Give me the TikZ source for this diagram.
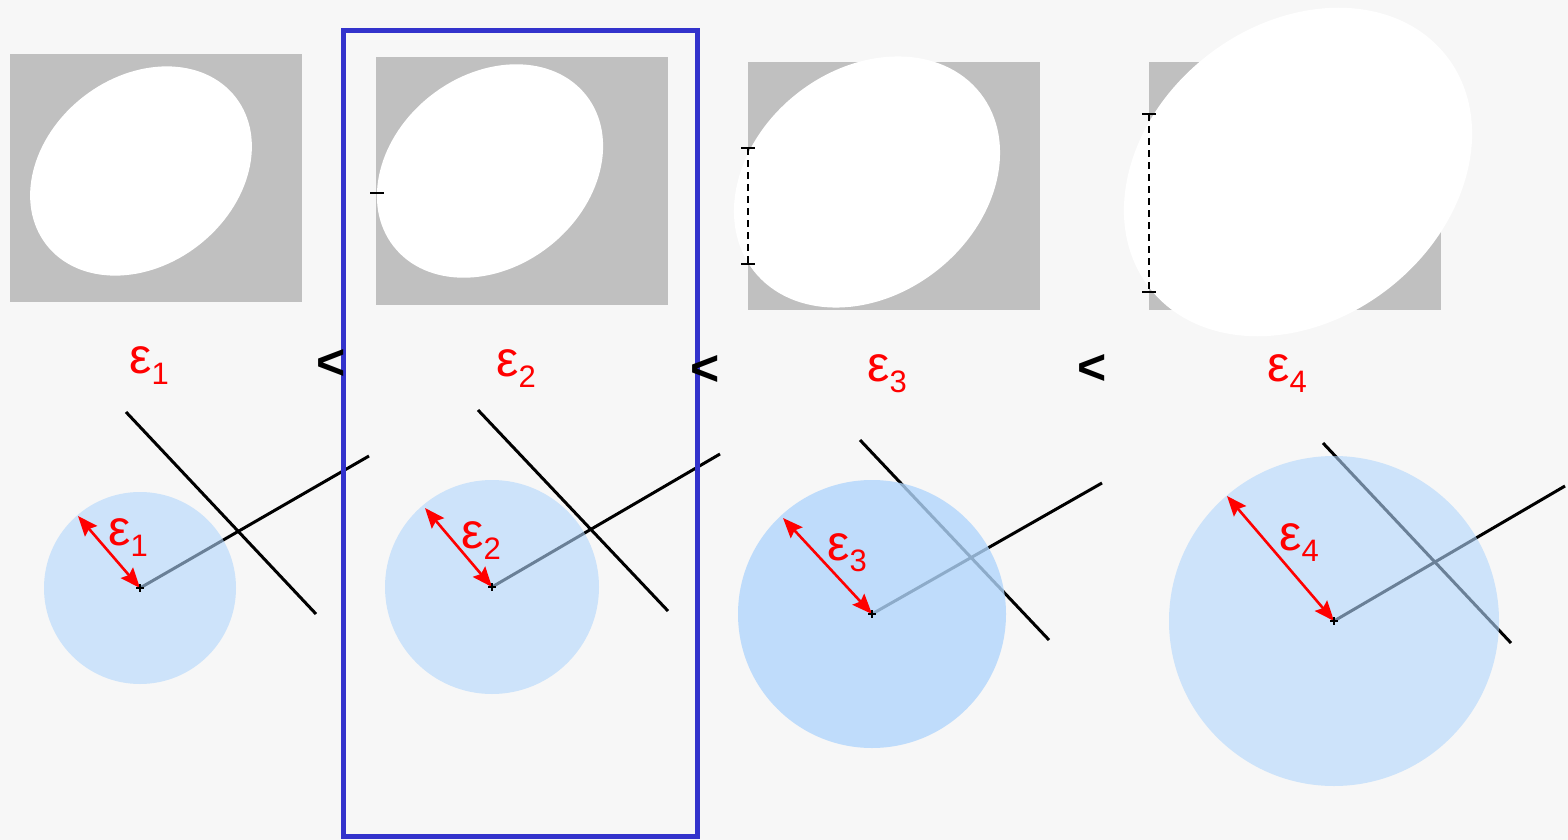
\documentclass[tikz,border=0pt]{standalone}
\usepackage{fontspec}
\setmainfont{Liberation Sans}
\usetikzlibrary{arrows.meta}
\definecolor{epsBg}{HTML}{F7F7F7}
\definecolor{epsGray}{HTML}{C0C0C0}
\definecolor{epsRed}{HTML}{FF0000}
\definecolor{epsFrame}{HTML}{3333CC}
\definecolor{epsBall}{RGB}{177,214,252}
\newcommand{\epsl}[1]{ε\raisebox{-5.5pt}{\fontsize{15.5}{15.5}\selectfont #1}}
\tikzset{
  eps card/.style={fill=epsGray},
  eps blob/.style={fill=white},
  eps line/.style={draw=black, line width=1.5pt},
  eps ball/.style={fill=epsBall, fill opacity=0.6},
  eps radius/.style={draw=epsRed, line width=1.3pt, {Stealth[length=10pt,width=8pt,inset=1.5pt]}-{Stealth[length=10pt,width=8pt,inset=1.5pt]}},
  eps cross/.style={draw=black, line width=1pt},
  eps label/.style={font=\fontsize{25}{25}\selectfont, text=epsRed, inner sep=0pt},
  eps less/.style={font=\bfseries\fontsize{25}{25}\selectfont, text=black, inner sep=0pt},
  eps gap/.style={draw=black, dash pattern=on 3.5pt off 2.5pt, line width=1pt},
  eps tick/.style={draw=black, line width=1.3pt},
  eps frame/.style={draw=epsFrame, line width=2.5pt},
}
\begin{document}
\begin{tikzpicture}[x=0.5pt, y=-0.5pt]
  \fill[epsBg] (0,0) rectangle (1568,840);
  \useasboundingbox (0,0) rectangle (1568,840);
  % upper row: gray cards with growing white blobs
  \foreach \rx/\ry/\cx/\cy/\s in {10/54/141/171/1, 376/57/490/171/1.02, 748/62/867/182/1.2, 1149/62/1298/172/1.57} {
    \fill[eps card] (\rx,\ry) rectangle +(292,248);
    \fill[eps blob, rotate around={38:(\cx,\cy)}] (\cx,\cy) ellipse[x radius=120*\s, y radius=94*\s];
  }
  % gap markers at the card edge
  \draw[eps tick] (370,193) -- (384,193);
  \coordinate (g3a) at (748,148); \coordinate (g3b) at (748,264);
  \coordinate (g4a) at (1149,114); \coordinate (g4b) at (1149,292);
  \foreach \i in {3,4} {
    \draw[eps gap] (g\i a) -- (g\i b);
    \draw[eps tick] (g\i a) +(-7,0) -- +(7,0);
    \draw[eps tick] (g\i b) +(-7,0) -- +(7,0);
  }
  % epsilon labels and ordering
  \node[eps label, anchor=base west] (e1) at (129,373) {\epsl{1}};
  \node[eps label, anchor=base west] (e2) at (496,376) {\epsl{2}};
  \node[eps label, anchor=base west] (e3) at (867,381) {\epsl{3}};
  \node[eps label, anchor=base west] (e4) at (1267,381) {\epsl{4}};
  % lower row: two lines, a ball round the end point and its radius
  \coordinate (c1) at (140,588); \coordinate (a1) at (126,412); \coordinate (z1) at (316,614);
  \coordinate (b1) at (369,456); \coordinate (t1) at (78,516);
  \coordinate (c2) at (492,587); \coordinate (a2) at (478,410); \coordinate (z2) at (668,611);
  \coordinate (b2) at (720,454); \coordinate (t2) at (425,508);
  \coordinate (c3) at (872,614); \coordinate (a3) at (860,440); \coordinate (z3) at (1049,640);
  \coordinate (b3) at (1102,483); \coordinate (t3) at (783,518);
  \coordinate (c4) at (1334,621); \coordinate (a4) at (1323,443); \coordinate (z4) at (1511,643);
  \coordinate (b4) at (1565,486); \coordinate (t4) at (1227,496);
  \foreach \i/\r/\op in {1/96/0.6, 2/107/0.6, 3/134/0.8, 4/165/0.6} {
    \draw[eps line] (a\i) -- (z\i);
    \draw[eps line] (c\i) -- (b\i);
    \fill[eps ball, fill opacity=\op] (c\i) circle[radius=\r];
    \draw[eps radius] (c\i) -- (t\i);
    \draw[eps cross] (c\i) +(-4,0) -- +(4,0) (c\i) +(0,-4) -- +(0,4);
  }
  \node[eps label, anchor=base west] (r1) at (108,545) {\epsl{1}};
  \node[eps label, anchor=base west] (r2) at (461,548) {\epsl{2}};
  \node[eps label, anchor=base west] (r3) at (827,560) {\epsl{3}};
  \node[eps label, anchor=base west] (r4) at (1279,550) {\epsl{4}};
  % chosen panel
  \draw[eps frame] (343,31) rectangle (697,836);
  \node[eps less] (lt1) at (331,364) {<};
  \node[eps less] (lt2) at (705,370) {<};
  \node[eps less] (lt3) at (1092,369) {<};
\end{tikzpicture}
\end{document}
